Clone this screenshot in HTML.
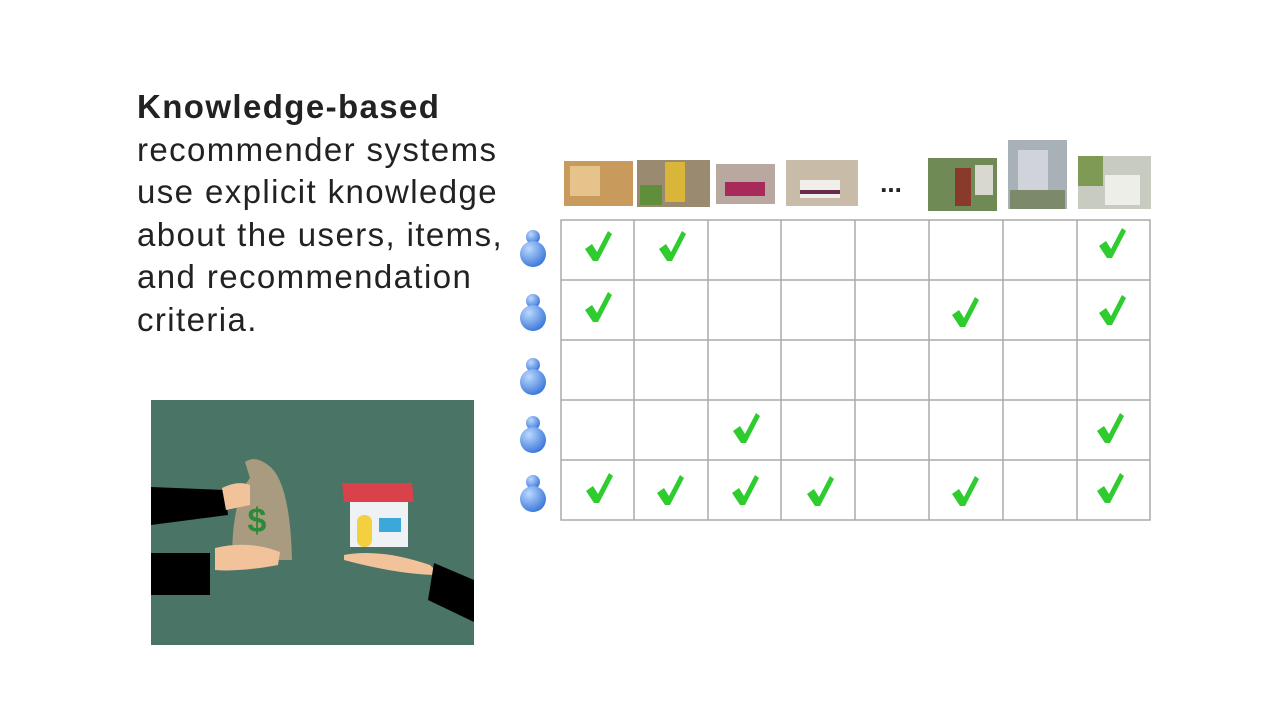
<!DOCTYPE html>
<html><head><meta charset="utf-8"><style>
body{margin:0;width:1280px;height:720px;background:#fff;overflow:hidden;font-family:"Liberation Sans",sans-serif}
.t{position:absolute;left:137px;top:86px;font-size:33px;line-height:42.6px;color:#222;letter-spacing:1.4px}
</style></head><body>
<div class="t"><b>Knowledge-based</b><br>recommender systems<br>use explicit knowledge<br>about the users, items,<br>and recommendation<br>criteria.</div>
<svg width="1280" height="720" style="position:absolute;left:0;top:0">
<defs>
<g id="ck"><path d="M-13,2 L-6,-3 L-1,5 L10,-16 L14,-13 L0,14 L-5,14 Z" fill="#2ecc2e"/></g>
<radialGradient id="ug" cx="0.35" cy="0.3" r="0.8"><stop offset="0" stop-color="#bcd8ff"/><stop offset="1" stop-color="#2f6fd6"/></radialGradient>
<g id="u"><circle cx="0" cy="-10" r="7" fill="url(#ug)"/><ellipse cx="0" cy="7" rx="13" ry="13" fill="url(#ug)"/></g>
</defs>
<rect x="564" y="161" width="69" height="45" fill="#c89a5c"/><rect x="570" y="166" width="30" height="30" fill="#e6c38a"/>
<rect x="637" y="160" width="73" height="47" fill="#9a8a70"/><rect x="665" y="162" width="20" height="40" fill="#d9b53a"/><rect x="640" y="185" width="22" height="20" fill="#5f8f3a"/>
<rect x="716" y="164" width="59" height="40" fill="#b8a8a0"/><rect x="725" y="182" width="40" height="14" fill="#a82a5a"/>
<rect x="786" y="160" width="72" height="46" fill="#c8bca8"/><rect x="800" y="180" width="40" height="18" fill="#f0eee8"/><rect x="800" y="190" width="40" height="4" fill="#6a2a4a"/>
<text x="891" y="192" font-size="26" font-weight="bold" text-anchor="middle" fill="#222">...</text>
<rect x="928" y="158" width="69" height="53" fill="#6f8a55"/><rect x="955" y="168" width="16" height="38" fill="#8a3a2a"/><rect x="975" y="165" width="18" height="30" fill="#d8d8d0"/>
<rect x="1008" y="140" width="59" height="69" fill="#a8b0b8"/><rect x="1018" y="150" width="30" height="55" fill="#d0d4da"/><rect x="1010" y="190" width="55" height="19" fill="#7a8a6a"/>
<rect x="1078" y="156" width="73" height="53" fill="#c8ccc0"/><rect x="1078" y="156" width="25" height="30" fill="#7f9a55"/><rect x="1105" y="175" width="35" height="30" fill="#eeeee8"/>
<g stroke="#aaa" stroke-width="1.5" fill="none">
<rect x="561" y="220" width="589" height="300"/>
<line x1="561" y1="280" x2="1150" y2="280"/><line x1="561" y1="340" x2="1150" y2="340"/><line x1="561" y1="400" x2="1150" y2="400"/><line x1="561" y1="460" x2="1150" y2="460"/>
<line x1="634" y1="220" x2="634" y2="520"/><line x1="708" y1="220" x2="708" y2="520"/><line x1="781" y1="220" x2="781" y2="520"/><line x1="855" y1="220" x2="855" y2="520"/><line x1="929" y1="220" x2="929" y2="520"/><line x1="1003" y1="220" x2="1003" y2="520"/><line x1="1077" y1="220" x2="1077" y2="520"/>
</g>
<use href="#u" x="533" y="247"/><use href="#u" x="533" y="311"/><use href="#u" x="533" y="375"/><use href="#u" x="533" y="433"/><use href="#u" x="533" y="492"/>
<use href="#ck" x="598" y="247"/><use href="#ck" x="672" y="247"/><use href="#ck" x="1112" y="244"/>
<use href="#ck" x="598" y="308"/><use href="#ck" x="965" y="313"/><use href="#ck" x="1112" y="311"/>
<use href="#ck" x="746" y="429"/><use href="#ck" x="1110" y="429"/>
<use href="#ck" x="599" y="489"/><use href="#ck" x="670" y="491"/><use href="#ck" x="745" y="491"/><use href="#ck" x="820" y="492"/><use href="#ck" x="965" y="492"/><use href="#ck" x="1110" y="489"/>
<rect x="151" y="400" width="323" height="245" fill="#4a7566"/>
<path d="M151,487 L225,490 L228,515 L151,525 Z" fill="#000"/>
<path d="M151,553 L210,553 L210,595 L151,595 Z" fill="#000"/>
<path d="M245,462 Q255,455 268,465 Q290,480 292,560 L232,560 Q232,500 250,478 Z" fill="#a99b80"/>
<text x="257" y="532" font-size="34" font-weight="bold" fill="#2d8a3a" text-anchor="middle">$</text>
<path d="M215,548 Q250,540 280,552 L278,565 Q240,572 215,570 Z" fill="#f2c39a"/>
<path d="M222,488 Q238,480 250,485 L250,505 L226,510 Z" fill="#f2c39a"/>
<path d="M342,483 L412,483 L414,502 L344,502 Z" fill="#d9424a"/>
<rect x="350" y="502" width="58" height="45" fill="#eef2f5"/>
<rect x="357" y="515" width="15" height="32" rx="7" fill="#f4d040"/>
<rect x="379" y="518" width="22" height="14" fill="#3aa8d8"/>
<path d="M344,555 Q380,548 430,565 L440,575 Q400,575 344,560 Z" fill="#f2c39a"/>
<path d="M434,563 L474,580 L474,622 L428,600 Z" fill="#000"/>
</svg>
</body></html>
